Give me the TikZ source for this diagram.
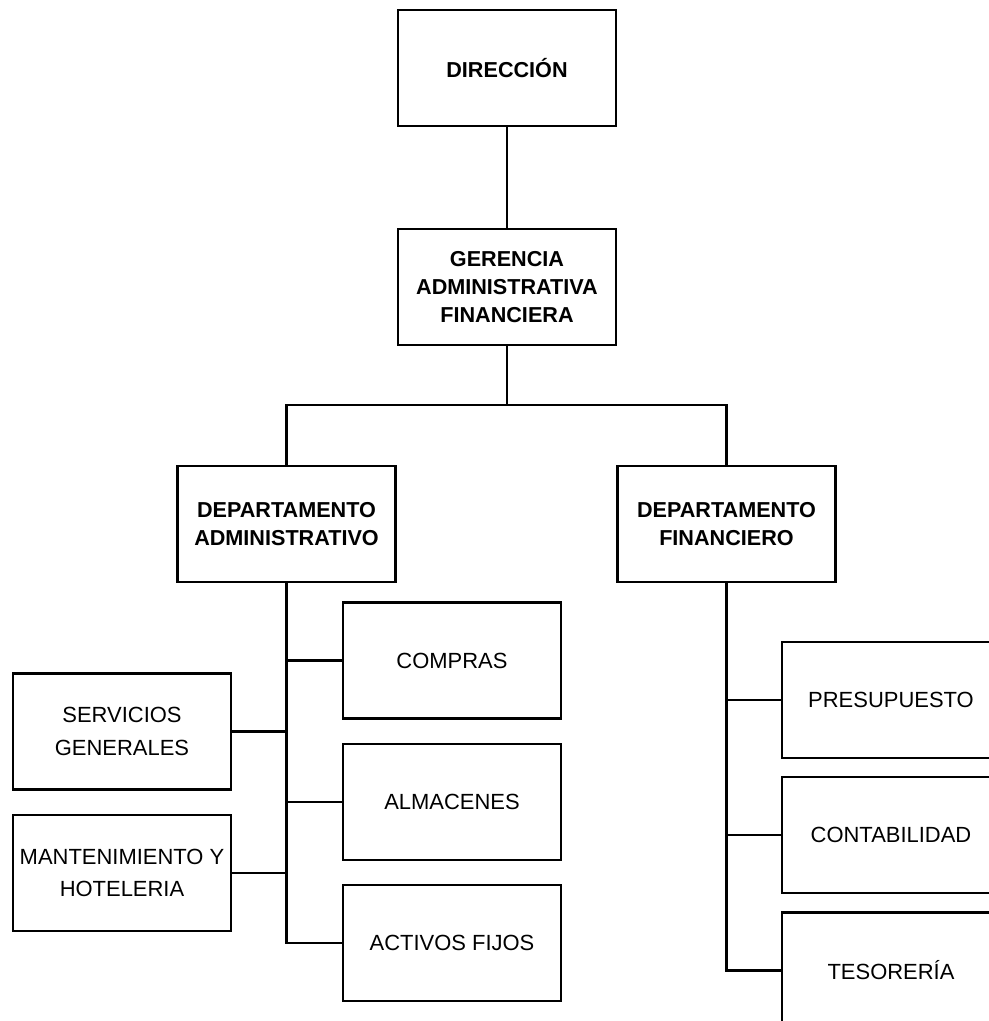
\documentclass[tikz,border=0pt]{standalone}
\usepackage{fontspec}
\setmainfont{Liberation Sans}
\usetikzlibrary{positioning}
\tikzset{
  headbox/.style={
    draw=black, line width=1.3pt, fill=white,
    minimum width=4.36cm, minimum height=2.32cm, align=center,
    inner sep=2pt, font=\fontsize{12.3}{16}\selectfont\bfseries
  },
  unitbox/.style={
    headbox, font=\fontsize{12.5}{18.5}\selectfont
  },
  link/.style={line width=1.3pt, draw=black}
}
\begin{document}
\begin{tikzpicture}[x=0.02cm,y=-0.02cm]
    \useasboundingbox (0,0) rectangle (989,1021);
    \clip (0,0) rectangle (989,1021);
    % top of the chart
    \node[headbox] (dir) at (507,68) {DIRECCIÓN};
    \node[headbox,below=2.02cm of dir] (ger) {GERENCIA\\ADMINISTRATIVA\\FINANCIERA};
    \node[headbox] (depadm) at (286.5,524) {DEPARTAMENTO\\ADMINISTRATIVO};
    \node[headbox] (depfin) at (726.5,524) {DEPARTAMENTO\\FINANCIERO};
    \coordinate (bus) at (507,405);
    % administrativo
    \node[unitbox] (compras) at (452,660.5) {COMPRAS};
    \node[unitbox,below=0.46cm of compras] (almacenes) {ALMACENES};
    \node[unitbox,below=0.46cm of almacenes] (activos) {ACTIVOS FIJOS};
    \node[unitbox] (servicios) at (122,731.5) {SERVICIOS\\GENERALES};
    \node[unitbox,below=0.46cm of servicios] (mant) {MANTENIMIENTO Y\\HOTELERIA};
    % financiero
    \node[unitbox] (presup) at (891,700) {PRESUPUESTO};
    \node[unitbox,below=0.34cm of presup] (contab) {CONTABILIDAD};
    \node[unitbox,below=0.34cm of contab] (tesor) {TESORERÍA};
    \draw[link] (dir)--(ger);
    \draw[link] (ger)--(bus);
    \draw[link] (depadm.north) |- (bus) -| (depfin.north);
    \draw[link] (depadm.south) |- (compras.west);
    \draw[link] (depadm.south) |- (almacenes.west);
    \draw[link] (depadm.south) |- (activos.west);
    \draw[link] (depadm.south) |- (servicios.east);
    \draw[link] (depadm.south) |- (mant.east);
    \draw[link] (depfin.south) |- (presup.west);
    \draw[link] (depfin.south) |- (contab.west);
    \draw[link] (depfin.south) |- (tesor.west);
\end{tikzpicture}
\end{document}
